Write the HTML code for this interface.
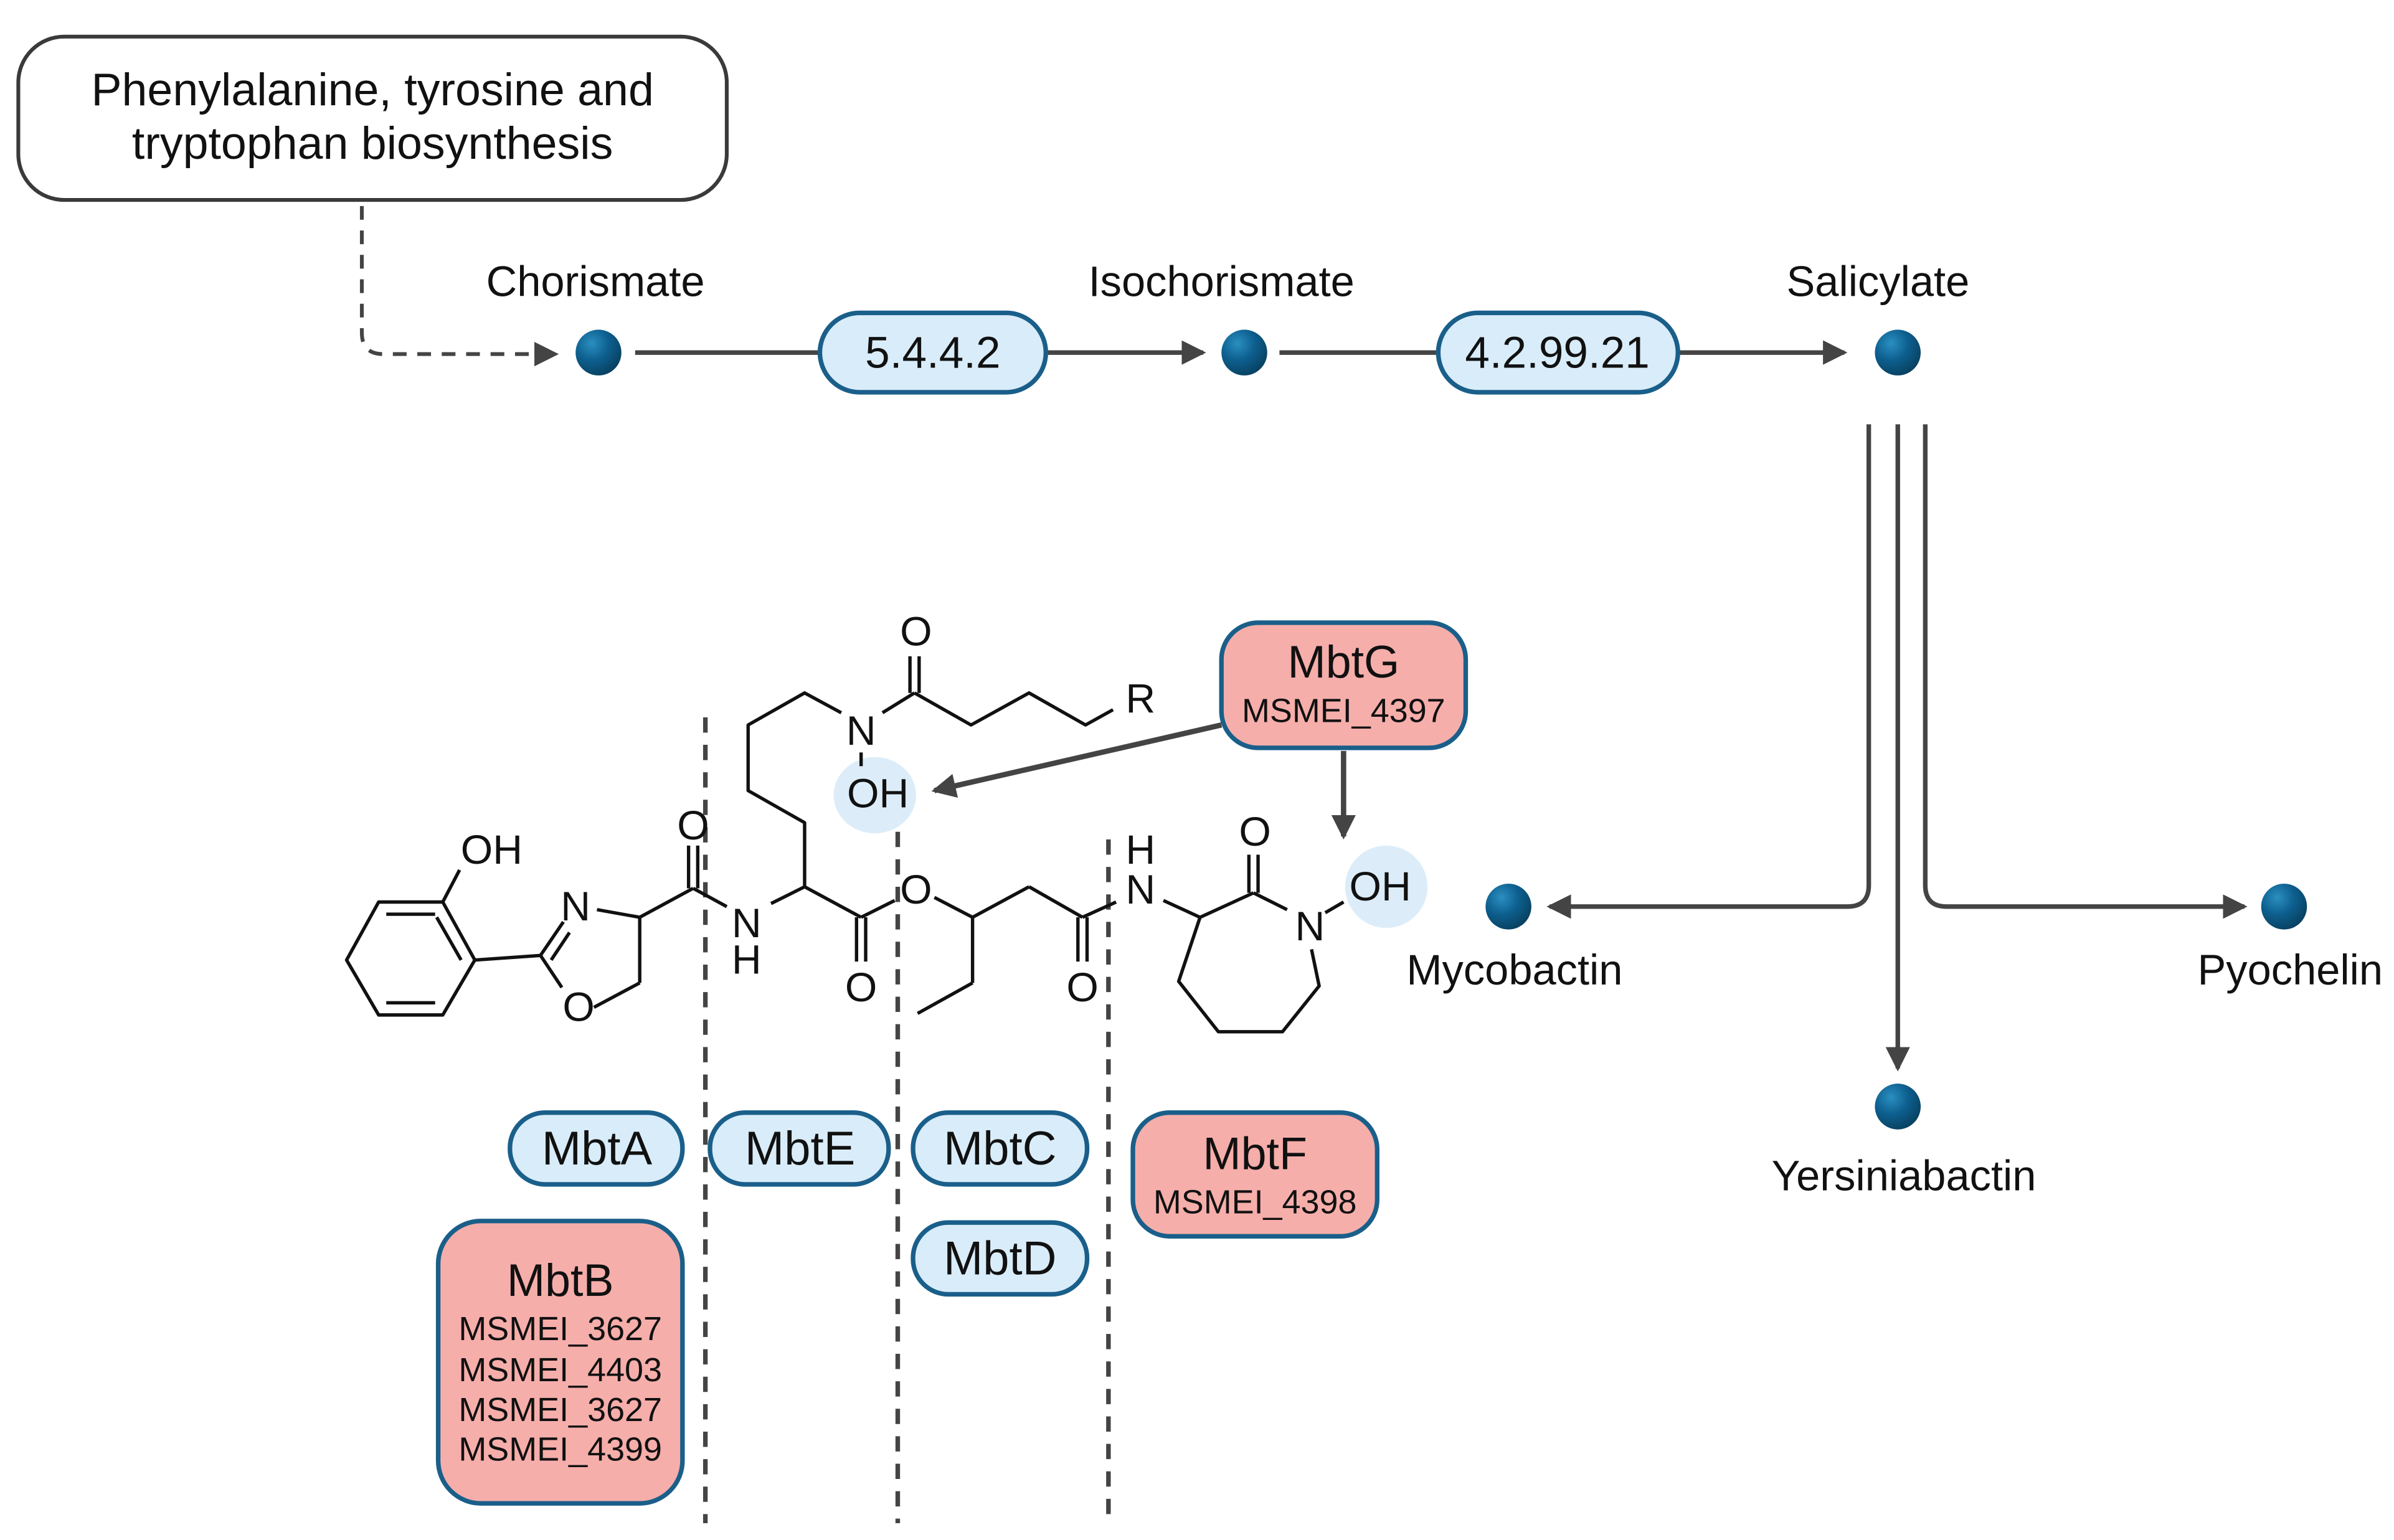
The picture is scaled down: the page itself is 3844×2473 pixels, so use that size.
<!DOCTYPE html>
<html><head><meta charset="utf-8"><style>
html,body{margin:0;padding:0;background:#fff;}
svg{display:block;}
text{font-family:"Liberation Sans",sans-serif;fill:#111;}
</style></head><body>
<svg width="3844" height="2473" viewBox="0 0 1568 1009" preserveAspectRatio="none" xmlns="http://www.w3.org/2000/svg">
<defs>
<marker id="ah2" markerWidth="16" markerHeight="16" refX="14" refY="8" orient="auto" markerUnits="userSpaceOnUse">
<path d="M0,0 L16,8 L0,16 z" fill="#444"/></marker>
<radialGradient id="dot" cx="0.35" cy="0.3" r="0.75">
<stop offset="0" stop-color="#2a8fc0"/><stop offset="0.5" stop-color="#0d5f8f"/><stop offset="1" stop-color="#08405f"/></radialGradient>
</defs>

<rect x="12" y="24" width="464" height="107" rx="30" fill="#fff" stroke="#3a3a3a" stroke-width="2.5"/>
<text x="244" y="69" font-size="30" text-anchor="middle">Phenylalanine, tyrosine and</text>
<text x="244" y="104" font-size="30" text-anchor="middle">tryptophan biosynthesis</text>

<path d="M237,135 L237,218 Q237,232 251,232 L364,232" fill="none" stroke="#444" stroke-width="2.5" stroke-dasharray="9,7" marker-end="url(#ah2)"/>

<g font-size="28" text-anchor="middle">
<text x="390" y="194">Chorismate</text>
<text x="800" y="194">Isochorismate</text>
<text x="1230" y="194">Salicylate</text>
<text x="992" y="645">Mycobactin</text>
<text x="1247" y="780">Yersiniabactin</text>
<text x="1500" y="645">Pyochelin</text>
</g>
<g fill="url(#dot)">
<circle cx="392" cy="231" r="15"/><circle cx="815" cy="231" r="15"/><circle cx="1243" cy="231" r="15"/>
<circle cx="988" cy="594" r="15"/><circle cx="1243" cy="725" r="15"/><circle cx="1496" cy="594" r="15"/>
</g>

<g stroke="#444" stroke-width="3" fill="none">
<line x1="416" y1="231" x2="538" y2="231"/>
<line x1="685" y1="231" x2="788" y2="231" marker-end="url(#ah2)"/>
<line x1="838" y1="231" x2="942" y2="231"/>
<line x1="1099" y1="231" x2="1208" y2="231" marker-end="url(#ah2)"/>
<path d="M1224,278 L1224,580 Q1224,594 1210,594 L1015,594" marker-end="url(#ah2)"/>
<line x1="1243" y1="278" x2="1243" y2="700" marker-end="url(#ah2)"/>
<path d="M1261,278 L1261,580 Q1261,594 1275,594 L1470,594" marker-end="url(#ah2)"/>
</g>

<rect x="537" y="205" width="148" height="52" rx="26" fill="#d9ecf9" stroke="#1a5f8a" stroke-width="3"/>
<text x="611" y="241" font-size="29" text-anchor="middle">5.4.4.2</text>
<rect x="942" y="205" width="157" height="52" rx="26" fill="#d9ecf9" stroke="#1a5f8a" stroke-width="3"/>
<text x="1020" y="241" font-size="29" text-anchor="middle">4.2.99.21</text>

<g stroke="#444" stroke-width="3" stroke-dasharray="10,8">
<line x1="462" y1="470" x2="462" y2="998"/>
<line x1="588" y1="545" x2="588" y2="998"/>
<line x1="726" y1="550" x2="726" y2="998"/>
</g>

<ellipse cx="573" cy="521" rx="27" ry="25" fill="#dcedf9"/>
<ellipse cx="908" cy="581" rx="27" ry="27" fill="#dcedf9"/>

<g stroke="#111" stroke-width="2.2" fill="none" stroke-linejoin="round">
<path d="M227,629 L248,591 L290,591 L311,629 L290,665 L248,665 Z"/>
<line x1="253" y1="599" x2="285" y2="599"/><line x1="253" y1="657" x2="285" y2="657"/><line x1="302" y1="629" x2="286" y2="601"/>
<line x1="290" y1="591" x2="301" y2="570"/>
<line x1="311" y1="629" x2="354" y2="626"/>
<line x1="354" y1="626" x2="369" y2="604"/><line x1="361" y1="629" x2="373" y2="611"/>
<line x1="354" y1="626" x2="368" y2="647"/>
<line x1="389" y1="660" x2="419" y2="644"/>
<line x1="419" y1="644" x2="419" y2="601"/>
<line x1="419" y1="601" x2="391" y2="596"/>
<line x1="419" y1="601" x2="454" y2="582"/>
<line x1="451" y1="582" x2="451" y2="554"/><line x1="457" y1="582" x2="457" y2="554"/>
<line x1="454" y1="582" x2="476" y2="594"/>
<line x1="505" y1="592" x2="527" y2="581"/>
<line x1="527" y1="581" x2="564" y2="601"/>
<line x1="561" y1="601" x2="561" y2="630"/><line x1="567" y1="601" x2="567" y2="630"/>
<line x1="564" y1="601" x2="586" y2="590"/>
<line x1="612" y1="588" x2="637" y2="601"/>
<line x1="637" y1="601" x2="637" y2="644"/><line x1="637" y1="644" x2="601" y2="664"/>
<line x1="637" y1="601" x2="674" y2="581"/><line x1="674" y1="581" x2="709" y2="601"/>
<line x1="706" y1="601" x2="706" y2="630"/><line x1="712" y1="601" x2="712" y2="630"/>
<line x1="709" y1="601" x2="731" y2="591"/>
<line x1="762" y1="590" x2="786" y2="601"/>
<line x1="786" y1="601" x2="821" y2="585"/>
<line x1="818" y1="585" x2="818" y2="560"/><line x1="824" y1="585" x2="824" y2="560"/>
<line x1="821" y1="585" x2="843" y2="596"/>
<line x1="868" y1="598" x2="880" y2="591"/>
<path d="M859,622 L864,646 L840,676 L798,676 L772,643 L786,601"/>
<path d="M527,581 L527,539 L490,518 L490,475 L527,454 L551,467"/>
<line x1="564" y1="493" x2="564" y2="502"/>
<line x1="578" y1="467" x2="599" y2="454"/>
<line x1="596" y1="454" x2="596" y2="430"/><line x1="602" y1="454" x2="602" y2="430"/>
<path d="M599,454 L636,475 L674,454 L711,475 L729,465"/>
</g>
<g font-size="27" text-anchor="middle">
<text x="322" y="566">OH</text>
<text x="377" y="603">N</text>
<text x="379" y="669">O</text>
<text x="454" y="550">O</text>
<text x="489" y="614">N</text><text x="489" y="638">H</text>
<text x="564" y="656">O</text>
<text x="600" y="592">O</text>
<text x="709" y="656">O</text>
<text x="747" y="592">N</text><text x="747" y="566">H</text>
<text x="822" y="554">O</text>
<text x="858" y="616">N</text>
<text x="904" y="590">OH</text>
<text x="564" y="488">N</text>
<text x="575" y="529">OH</text>
<text x="600" y="423">O</text>
<text x="747" y="467">R</text>
</g>

<rect x="800" y="408" width="160" height="82" rx="24" fill="#f6aeaa" stroke="#1a5f8a" stroke-width="3"/>
<text x="880" y="444" font-size="30" text-anchor="middle">MbtG</text>
<text x="880" y="473" font-size="22" text-anchor="middle">MSMEI_4397</text>
<g stroke="#444" stroke-width="3.5" fill="none">
<line x1="800" y1="475" x2="612" y2="518" marker-end="url(#ah2)"/>
<line x1="880" y1="492" x2="880" y2="548" marker-end="url(#ah2)"/>
</g>

<g fill="#d9ecf9" stroke="#1a5f8a" stroke-width="3">
<rect x="334" y="729" width="113" height="47" rx="23"/>
<rect x="465" y="729" width="117" height="47" rx="23"/>
<rect x="598" y="729" width="114" height="47" rx="23"/>
<rect x="598" y="801" width="114" height="47" rx="23"/>
</g>
<g font-size="31" text-anchor="middle">
<text x="391" y="763">MbtA</text>
<text x="524" y="763">MbtE</text>
<text x="655" y="763">MbtC</text>
<text x="655" y="835">MbtD</text>
</g>
<rect x="742" y="729" width="160" height="81" rx="24" fill="#f6aeaa" stroke="#1a5f8a" stroke-width="3"/>
<text x="822" y="766" font-size="30" text-anchor="middle">MbtF</text>
<text x="822" y="795" font-size="22" text-anchor="middle">MSMEI_4398</text>
<rect x="287" y="800" width="160" height="185" rx="28" fill="#f6aeaa" stroke="#1a5f8a" stroke-width="3"/>
<text x="367" y="849" font-size="30" text-anchor="middle">MbtB</text>
<g font-size="22" text-anchor="middle">
<text x="367" y="878">MSMEI_3627</text>
<text x="367" y="905">MSMEI_4403</text>
<text x="367" y="931">MSMEI_3627</text>
<text x="367" y="957">MSMEI_4399</text>
</g>
</svg>
</body></html>
